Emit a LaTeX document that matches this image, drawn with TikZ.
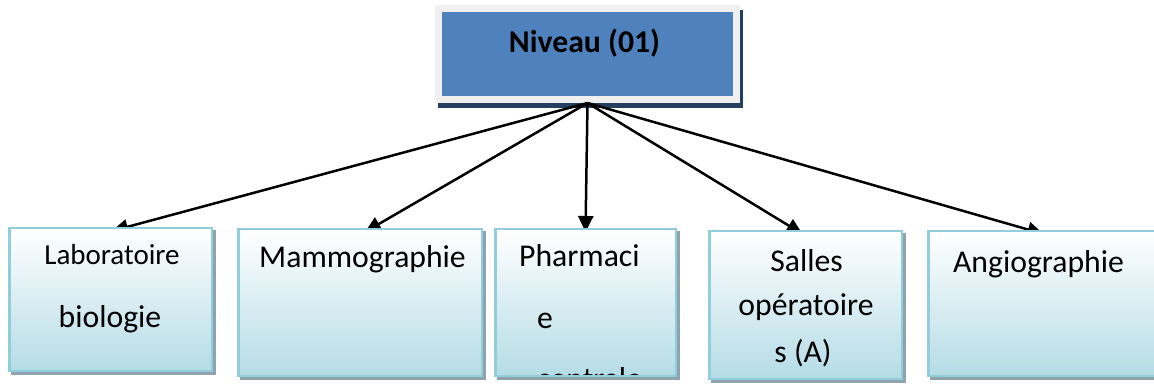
\documentclass[tikz,border=0pt]{standalone}
\usepackage{fontspec}
\setmainfont{Carlito}
\usetikzlibrary{arrows.meta}
\definecolor{lvlblue}{HTML}{4F81BD}
\definecolor{framegray}{HTML}{F0F0F0}
\definecolor{navyshadow}{HTML}{243F60}
\definecolor{boxborder}{HTML}{92CDDC}
\definecolor{boxbottom}{HTML}{B5DCE6}
\definecolor{boxshadow}{HTML}{8EA3AD}
\pgfdeclarelayer{front}
\pgfsetlayers{main,front}
\begin{document}
\begin{tikzpicture}[x=1pt,y=-1pt,
  lvlbox/.style={rectangle, fill=lvlblue, draw=framegray, line width=7pt,
    minimum width=298pt, minimum height=91pt, inner sep=0pt,
    preaction={draw=navyshadow, fill=navyshadow, line width=7pt,
      transform canvas={xshift=3pt,yshift=-5pt}}},
  unitbox/.style={rectangle, draw=boxborder, line width=2.5pt,
    top color=white, bottom color=boxbottom, inner sep=0pt,
    preaction={draw=boxshadow, fill=boxshadow, line width=2.5pt,
      transform canvas={xshift=3pt,yshift=-3pt}}},
  lbl/.style={anchor=base, inner sep=0pt, font=\fontsize{31.7}{38}\selectfont},
  link/.style={draw=black, line width=2.5pt, -{Triangle[length=16pt,width=15pt]}}
]
\useasboundingbox (0,0) rectangle (1154,387);
\clip (0,0) rectangle (1154,387);

% level header
\node[lvlbox] (top) at (587.5,54) {};
\node[lbl, font=\fontsize{31.7}{38}\selectfont\bfseries] (t0) at (584.5,53) {Niveau (01)};

\begin{pgfonlayer}{front}
% service boxes
\node[unitbox, minimum width=202.5pt, minimum height=142.5pt] (b1) at (110.5,299.5) {};
\node[unitbox, minimum width=243.5pt, minimum height=146.5pt] (b2) at (360,302.5) {};
\node[unitbox, minimum width=180.5pt, minimum height=146.5pt] (b3) at (585.5,302.5) {};
\node[unitbox, minimum width=192.5pt, minimum height=147.5pt] (b4) at (805.5,305) {};
\node[unitbox, minimum width=234.5pt, minimum height=144.5pt] (b5) at (1045.5,303.5) {};

% labels
\node[lbl, font=\fontsize{29}{35}\selectfont] (t1a) at (112,265) {Laboratoire};
\node[lbl] (t1b) at (110,327) {biologie};
\node[lbl] (t2) at (362.5,268) {Mammographie};
\node[lbl, anchor=base west] (t3a) at (519,267) {Pharmaci};
\node[lbl, anchor=base west] (t3b) at (537,329) {e};
\begin{scope}
  \clip ([yshift=2.5pt]b3.south west) rectangle (b3.north east);
  \node[lbl, anchor=base west] (t3c) at (537,389) {centrale};
\end{scope}
\node[lbl] (t4a) at (806.5,272) {Salles};
\node[lbl] (t4b) at (806,316) {opératoire};
\node[lbl] (t4c) at (803,362) {s (A)};
\node[lbl] (t5) at (1038.5,273) {Angiographie};
\end{pgfonlayer}

% connectors, tips tucked just under the box tops
\draw[link] (top.south) -- ([xshift=1.5pt,yshift=-4pt]b1.north);
\draw[link] (top.south) -- ([xshift=5pt,yshift=-4pt]b2.north);
\draw[link] (top.south) -- ([yshift=-4pt]b3.north);
\draw[link] (top.south) -- ([xshift=-3pt,yshift=-4pt]b4.north);
\draw[link] (top.south) -- ([xshift=-2pt,yshift=-4pt]b5.north);
\end{tikzpicture}
\end{document}
